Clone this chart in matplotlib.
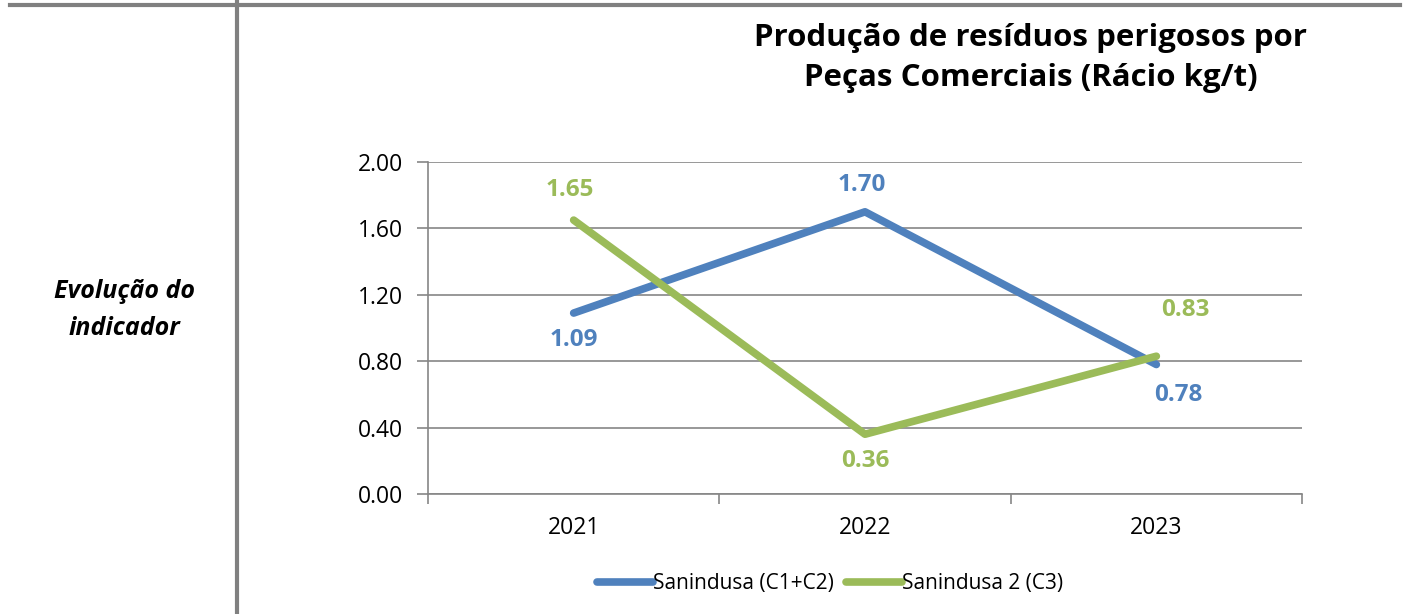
import matplotlib
matplotlib.use("Agg")
import matplotlib.pyplot as plt
from matplotlib.lines import Line2D

plt.rcParams['font.family'] = ['Open Sans', 'DejaVu Sans']

years = ["2021", "2022", "2023"]
s1_name = "Sanindusa (C1+C2)"
s2_name = "Sanindusa 2 (C3)"
s1 = [1.09, 1.70, 0.78]
s2 = [1.65, 0.36, 0.83]
yticks = [0.0, 0.4, 0.8, 1.2, 1.6, 2.0]
title = "Produção de resíduos perigosos por\nPeças Comerciais (Rácio kg/t)"
side_text = "Evolução do\nindicador"

blue = "#4F81BD"
green = "#9BBB59"
gray = "#868686"

W, H = 1407, 614
fig = plt.figure(figsize=(W / 100, H / 100), dpi=100)

# frame lines (table borders)
fig.add_artist(Line2D([10 / W, 1400 / W], [1 - 5 / H, 1 - 5 / H], color="#808080", lw=3, transform=fig.transFigure))
fig.add_artist(Line2D([237 / W, 237 / W], [0, 1], color="#808080", lw=3, transform=fig.transFigure))

fig.text(124 / W, 1 - 310 / H, side_text, ha="center", va="center", fontsize=18,
         fontweight="bold", fontstyle="italic", linespacing=1.65)

fig.text(1031 / W, 1 - 58 / H, title, ha="center", va="center", fontsize=22.5,
         fontweight="bold", linespacing=1.45)

ax = fig.add_axes([428 / W, 1 - 494 / H, (1302 - 428) / W, (494 - 162) / H])
x = list(range(len(years)))
ax.plot(x, s1, color=blue, lw=5.5, solid_capstyle="round", label=s1_name, zorder=3)
ax.plot(x, s2, color=green, lw=5.5, solid_capstyle="round", label=s2_name, zorder=4)

ax.set_xlim(-0.5, 2.5)
ax.set_ylim(0, 2.0)
ax.set_yticks(yticks)
ax.set_yticklabels([f"{v:.2f}" for v in yticks], fontsize=16.5)
ax.set_xticks(x)
ax.set_xticklabels(years, fontsize=16.5)
ax.set_xticks([-0.5, 0.5, 1.5, 2.5], minor=True)
ax.tick_params(axis="x", which="major", length=0, pad=16)
ax.tick_params(axis="x", which="minor", length=7, color=gray, width=1.2)
ax.tick_params(axis="y", length=8, color=gray, width=1.2, pad=10)
ax.grid(axis="y", color=gray, lw=1.2)
ax.set_axisbelow(True)
for sp in ["top", "right"]:
    ax.spines[sp].set_visible(False)
for sp in ["left", "bottom"]:
    ax.spines[sp].set_color(gray)
    ax.spines[sp].set_linewidth(1.2)

# data labels (offsets in points)
s1_offsets = [(0, -19.5), (-2, 19.5), (16, -22)]
s2_offsets = [(-3, 21.5), (0, -19.5), (21, 33)]
for i in x:
    ax.annotate(f"{s1[i]:.2f}", (i, s1[i]), xytext=s1_offsets[i], textcoords="offset points",
                ha="center", va="center", color=blue, fontsize=17.5, fontweight="bold")
    ax.annotate(f"{s2[i]:.2f}", (i, s2[i]), xytext=s2_offsets[i], textcoords="offset points",
                ha="center", va="center", color=green, fontsize=17.5, fontweight="bold")

leg = fig.legend(loc="center", bbox_to_anchor=(830 / W, 1 - 584 / H), ncol=2, frameon=False,
                 fontsize=15, handlelength=2.7, handletextpad=0.0, columnspacing=0.6)

fig.savefig("out.png", dpi=100)
